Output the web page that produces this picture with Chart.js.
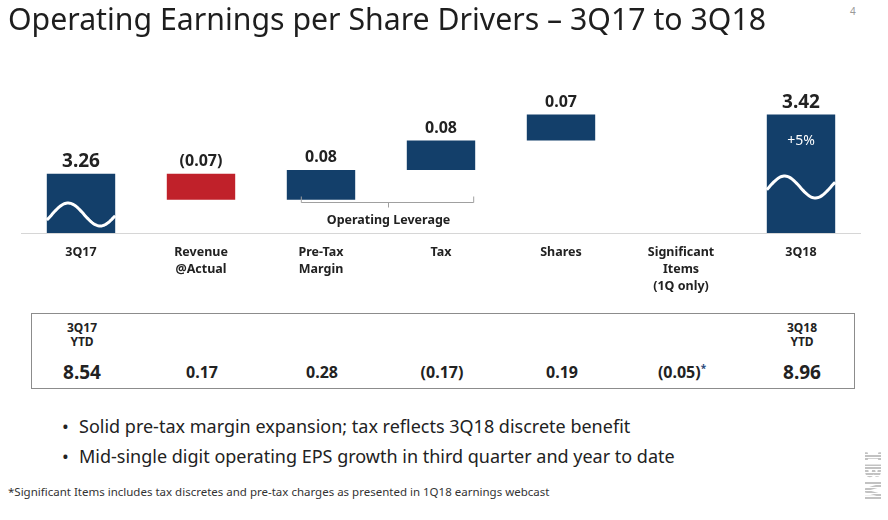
<!DOCTYPE html>
<html>
<head>
<meta charset="utf-8">
<script src="https://cdn.jsdelivr.net/npm/chart.js@4.4.1/dist/chart.umd.min.js"></script>
<style>
  body { margin: 0; width: 888px; height: 520px; background: #fff; font-family: "Noto Sans", sans-serif; color: #222; position: relative; overflow: hidden; }
  .abs { position: absolute; white-space: nowrap; }
  #title { left: 8px; top: -3px; font-size: 31px; transform-origin: left top; color: #1e1e1e; }
  #page { left: 850px; top: 4px; font-size: 10px; color: #999; }
  #chart { position: absolute; left: 21px; top: 60px; }
  #ytd { position: absolute; left: 31px; top: 313px; width: 822px; height: 74px; border: 1px solid #8c8c8c; }
  .head { font-size: 12px; font-weight: bold; line-height: 14px; text-align: center; transform: translateX(-50%); top: 7px; }
  .val { font-size: 16px; font-weight: bold; transform: translate(-50%, -50%); top: 58px; }
  .val.big { font-size: 19px; }
  .val sup { font-size: 10px; color: #2a4a7a; }
  .bullet { left: 62px; font-size: 18px; color: #222; }
  .bullet span { position: absolute; left: 17px; }
  #foot { left: 8px; top: 484px; font-size: 11.5px; color: #333; }
  #logo { left: 849px; top: 461px; font-size: 23px; font-weight: 900; transform: rotate(90deg); letter-spacing: 1px;
          background: repeating-linear-gradient(90deg, #c2c2c2 0 2px, #fff 2px 3px); -webkit-background-clip: text; background-clip: text; color: transparent; }
</style>
</head>
<body>
<div id="title" class="abs">Operating Earnings per Share Drivers – 3Q17 to 3Q18</div>
<div id="page" class="abs">4</div>
<canvas id="chart" width="840" height="240"></canvas>
<div id="ytd"></div>
<div class="abs bullet" style="top:414px">•<span>Solid pre-tax margin expansion; tax reflects 3Q18 discrete benefit</span></div>
<div class="abs bullet" style="top:444px">•<span>Mid-single digit operating EPS growth in third quarter and year to date</span></div>
<div id="foot" class="abs">*Significant Items includes tax discretes and pre-tax charges as presented in 1Q18 earnings webcast</div>
<div id="logo" class="abs">IBM</div>
<script>
// quarterly EPS waterfall
const categories = [["3Q17"], ["Revenue", "@Actual"], ["Pre-Tax", "Margin"], ["Tax"], ["Shares"], ["Significant", "Items", "(1Q only)"], ["3Q18"]];
const startEps = 3.26;
const endEps = 3.42;
const drivers = [-0.07, 0.08, 0.08, 0.07, null];   // revenue, pre-tax margin, tax, shares, significant items
const barLabels = ["3.26", "(0.07)", "0.08", "0.08", "0.07", "", "3.42"];
const growthLabel = "+5%";

// year to date row
const ytdHeads = [["3Q17", "YTD"], [], [], [], [], [], ["3Q18", "YTD"]];
const ytdValues = ["8.54", "0.17", "0.28", "(0.17)", "0.19", "(0.05)", "8.96"];

const yMin = 3.10, yMax = 3.50;
const navy = "#133f6a", red = "#c0212a";

// floating bars: totals from the axis floor, drivers from the running total
let bars = [[yMin, startEps]];
let run = startEps;
drivers.forEach(d => {
  if (d === null) { bars.push(null); return; }
  const next = Math.round((run + d) * 100) / 100;
  bars.push([run, next]);
  run = next;
});
bars.push([yMin, endEps]);
const colors = bars.map(b => (b && b[1] < b[0]) ? red : navy);

const decor = {
  id: 'decor',
  beforeDatasetsDraw(chart) {
    const ctx = chart.ctx, a = chart.chartArea;
    ctx.save();
    ctx.strokeStyle = '#d6d6d6';
    ctx.lineWidth = 1;
    ctx.beginPath();
    ctx.moveTo(0, a.bottom + 0.5);
    ctx.lineTo(chart.width, a.bottom + 0.5);
    ctx.stroke();
    ctx.restore();
  },
  afterDatasetsDraw(chart) {
    const ctx = chart.ctx, a = chart.chartArea;
    const els = chart.getDatasetMeta(0).data;
    ctx.save();

    // white waves inside the total bars
    const waves = { 0: { mid: 18.5, amp: 11.5, period: 0.94, peak: 0.31 }, 6: { mid: 46, amp: 11, period: 0.9, peak: 0.26 } };
    Object.keys(waves).forEach(i => {
      const el = els[i], w = waves[i];
      const left = el.x - el.width / 2, bottom = a.bottom;
      ctx.strokeStyle = '#fff';
      ctx.lineWidth = 3;
      ctx.beginPath();
      for (let k = 0; k <= 60; k++) {
        const t = k / 60;
        const ph = Math.PI / 2 + 2 * Math.PI * (t - w.peak) / w.period;
        const y = bottom - w.mid - w.amp * Math.sin(ph);
        if (k === 0) ctx.moveTo(left, y); else ctx.lineTo(left + t * el.width, y);
      }
      ctx.stroke();
    });

    // value labels above bars
    ctx.fillStyle = '#222';
    ctx.textAlign = 'center';
    ctx.textBaseline = 'alphabetic';
    els.forEach((el, i) => {
      if (!barLabels[i] || !bars[i]) return;
      const top = Math.min(el.y, el.base);
      const total = (i === 0 || i === els.length - 1);
      ctx.font = 'bold ' + (total ? 19 : 16) + 'px "Noto Sans"';
      ctx.fillText(barLabels[i], el.x, top - (total ? 7 : 8));
    });

    // growth label in 3Q18 bar
    const last = els[6];
    ctx.fillStyle = '#fff';
    ctx.font = '14px "Noto Sans"';
    ctx.fillText(growthLabel, last.x, last.y + 30);

    // operating leverage bracket
    const p = els[2], t = els[3];
    const x1 = p.x - p.width / 2 + 14, x2 = t.x + t.width / 2 - 1, by = a.bottom - 30.5;
    ctx.strokeStyle = '#a0a0a0';
    ctx.lineWidth = 1;
    ctx.beginPath();
    ctx.moveTo(x1 + 0.5, by - 6); ctx.lineTo(x1 + 0.5, by); ctx.lineTo(x2 - 0.5, by); ctx.lineTo(x2 - 0.5, by - 6);
    const cx = Math.round((x1 + x2) / 2) + 0.5;
    ctx.moveTo(cx, by); ctx.lineTo(cx, by + 5);
    ctx.stroke();
    ctx.fillStyle = '#222';
    ctx.font = 'bold 12.5px "Noto Sans"';
    ctx.textBaseline = 'middle';
    ctx.fillText('Operating Leverage', cx, a.bottom - 13);
    ctx.restore();
  }
};

const chart = new Chart(document.getElementById('chart'), {
  type: 'bar',
  data: {
    labels: categories,
    datasets: [{
      data: bars,
      backgroundColor: colors,
      barPercentage: 0.57,
      categoryPercentage: 1,
      borderSkipped: false
    }]
  },
  options: {
    responsive: false,
    animation: false,
    layout: { padding: { top: 25 } },
    plugins: { legend: { display: false }, tooltip: { enabled: false } },
    scales: {
      x: {
        grid: { display: false },
        border: { display: false },
        ticks: { color: '#222', padding: 3, maxRotation: 0, autoSkip: false,
                 font: { family: 'Noto Sans', size: 12.5, weight: 'bold', lineHeight: 1.36 } },
        afterFit(s) { s.height = 67; }
      },
      y: { display: false, min: yMin, max: yMax }
    }
  },
  plugins: [decor]
});

// YTD row, aligned with the category centres
const box = document.getElementById('ytd');
const offset = 21 - 31;
ytdValues.forEach((v, i) => {
  const x = chart.scales.x.getPixelForValue(i) + offset;
  if (ytdHeads[i].length) {
    const h = document.createElement('div');
    h.className = 'abs head';
    h.style.left = x + 'px';
    h.innerHTML = ytdHeads[i].join('<br>');
    box.appendChild(h);
  }
  const d = document.createElement('div');
  d.className = 'abs val' + ((i === 0 || i === ytdValues.length - 1) ? ' big' : '');
  d.style.left = x + 'px';
  d.innerHTML = v + (i === 5 ? '<sup>*</sup>' : '');
  box.appendChild(d);
});

// title is set in a condensed face in the original; squeeze to its width
const title = document.getElementById('title');
title.style.transform = 'scaleX(' + (758 / title.offsetWidth) + ')';
</script>
</body>
</html>
